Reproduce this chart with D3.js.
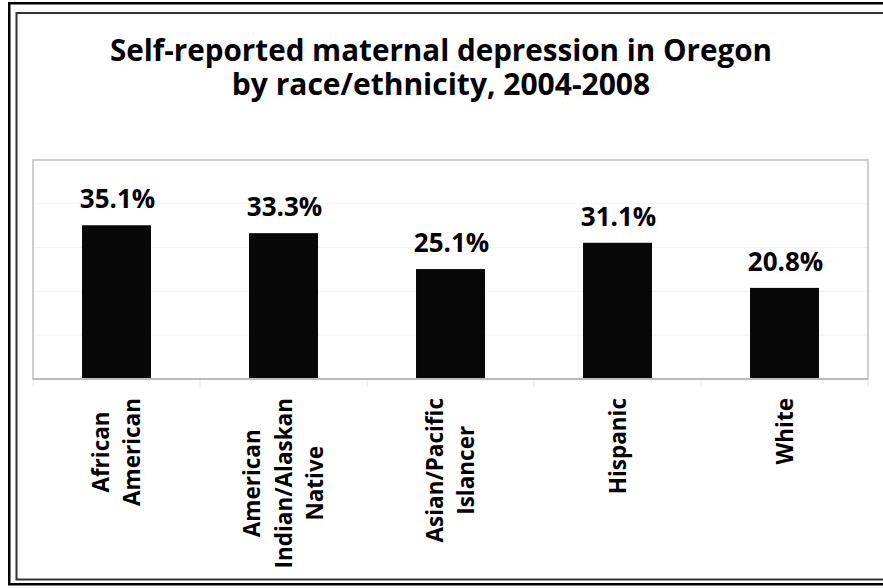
<!DOCTYPE html>
<html>
<head>
<meta charset="utf-8">
<script src="https://cdn.jsdelivr.net/npm/d3@7"></script>
<style>
  body { margin: 0; background: #fff; }
  text { font-family: "Open Sans", "DejaVu Sans", sans-serif; font-weight: bold; fill: #000; }
</style>
</head>
<body>
<div class="chart"></div>
<script>
// data
const categories = ["African American", "American Indian/Alaskan Native", "Asian/Pacific Islancer", "Hispanic", "White"];
const categoryLines = [["African", "American"], ["American", "Indian/Alaskan", "Native"], ["Asian/Pacific", "Islancer"], ["Hispanic"], ["White"]];
const values = [35.1, 33.3, 25.1, 31.1, 20.8];
const gridTicks = [10, 20, 30, 40];
const titleLines = ["Self-reported maternal depression in Oregon", "by race/ethnicity, 2004-2008"];

const W = 883, H = 588;
const plot = {left: 33, top: 160, right: 868, bottom: 379};

const data = categories.map((c, i) => ({cat: c, lines: categoryLines[i], value: values[i]}));

const svg = d3.select('.chart').append('svg')
    .attr('width', W)
    .attr('height', H);

// double frame round the whole picture
svg.append('rect')
    .attr('x', 9.25).attr('y', 3.25)
    .attr('width', 900).attr('height', 581)
    .attr('fill', 'none').attr('stroke', '#000').attr('stroke-width', 2.5);
svg.append('rect')
    .attr('x', 16.5).attr('y', 13)
    .attr('width', 900).attr('height', 566.5)
    .attr('fill', 'none').attr('stroke', '#333').attr('stroke-width', 2);

// title
const titleWidths = [662, 428];
const title = svg.append('g');
titleLines.forEach((t, i) => {
    const tx = title.append('text')
        .attr('x', 441)
        .attr('y', 61 + i * 34)
        .attr('text-anchor', 'middle')
        .attr('font-size', '30px')
        .text(t);
    const len = tx.node().getComputedTextLength();
    if (len > titleWidths[i]) {
        tx.attr('textLength', titleWidths[i]).attr('lengthAdjust', 'spacingAndGlyphs');
    }
});

const xScale = d3.scaleBand()
    .domain(categories)
    .range([plot.left, plot.right])
    .paddingInner(0.587)
    .paddingOuter(0.587 / 2);

const yScale = d3.scaleLinear()
    .domain([0, 50])
    .range([plot.bottom, plot.top]);

// gridlines
svg.append('g')
    .selectAll('line')
    .data(gridTicks)
    .enter()
    .append('line')
    .attr('x1', plot.left).attr('x2', plot.right)
    .attr('y1', d => yScale(d)).attr('y2', d => yScale(d))
    .attr('stroke', '#f3f3f3').attr('stroke-width', 1);

// plot area border
svg.append('rect')
    .attr('x', plot.left).attr('y', plot.top)
    .attr('width', plot.right - plot.left)
    .attr('height', plot.bottom - plot.top)
    .attr('fill', 'none')
    .attr('stroke', '#bfbfbf')
    .attr('stroke-width', 1.5);

// category ticks between bands
const step = xScale.step();
svg.append('g')
    .selectAll('line')
    .data(d3.range(categories.length + 1))
    .enter()
    .append('line')
    .attr('x1', i => plot.left + i * step).attr('x2', i => plot.left + i * step)
    .attr('y1', plot.bottom).attr('y2', plot.bottom + 8)
    .attr('stroke', '#e6e6e6').attr('stroke-width', 1);

// bars
svg.selectAll('rect.bar')
    .data(data)
    .enter()
    .append('rect')
    .attr('class', 'bar')
    .attr('x', d => xScale(d.cat))
    .attr('y', d => yScale(d.value))
    .attr('width', xScale.bandwidth())
    .attr('height', d => plot.bottom - yScale(d.value))
    .attr('fill', '#080808');

// axis line on top of bars
svg.append('line')
    .attr('x1', plot.left).attr('x2', plot.right)
    .attr('y1', plot.bottom).attr('y2', plot.bottom)
    .attr('stroke', '#bbb').attr('stroke-width', 2);

// value labels
svg.selectAll('text.val')
    .data(data)
    .enter()
    .append('text')
    .attr('class', 'val')
    .attr('x', d => xScale(d.cat) + xScale.bandwidth() / 2 + 1)
    .attr('y', d => yScale(d.value) - 17)
    .attr('text-anchor', 'middle')
    .attr('font-size', '26px')
    .text(d => d.value.toFixed(1) + '%');

// rotated category labels, lines centred, block hanging from the axis
const lineGap = 31.5;
const labelTop = 398;
data.forEach(d => {
    const cx = xScale(d.cat) + xScale.bandwidth() / 2;
    const g = svg.append('g');
    const n = d.lines.length;
    const texts = d.lines.map((l, i) => g.append('text')
        .attr('text-anchor', 'middle')
        .attr('font-size', '22.5px')
        .attr('x', 0)
        .attr('y', (i - (n - 1) / 2) * lineGap + 8)
        .text(l));
    const longest = d3.max(texts, t => t.node().getComputedTextLength());
    g.attr('transform', `translate(${cx}, ${labelTop + longest / 2}) rotate(-90)`);
});
</script>
</body>
</html>
